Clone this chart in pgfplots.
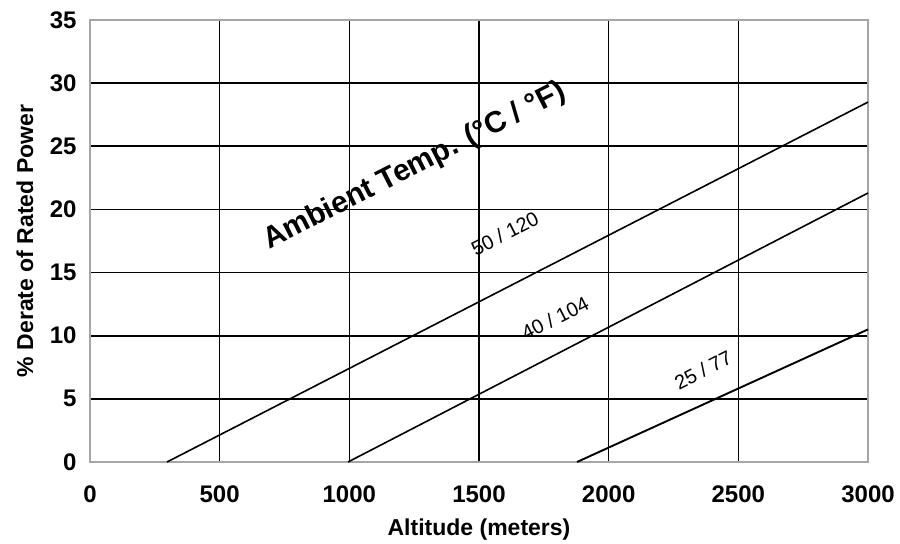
\documentclass[border=0pt]{standalone}
\usepackage{pgfplots}
\pgfplotsset{compat=1.18}
\usepackage{fontspec}
\setmainfont{Liberation Sans}

\begin{document}
\begin{tikzpicture}
  \begin{axis}[
    scale only axis,
    width=778pt, height=442pt,
    xmin=0, xmax=3000,
    ymin=0, ymax=35,
    xtick={0,500,...,3000},
    ytick={0,5,...,35},
    /pgf/number format/assume math mode=true,
    /pgf/number format/1000 sep={},
    ticklabel style={font=\bfseries\fontsize{24}{26}\selectfont},
    label style={font=\bfseries\fontsize{23}{25}\selectfont},
    xlabel={Altitude (meters)},
    ylabel={\% Derate of Rated Power},
    xlabel style={at={(axis description cs:0.5,0)}, anchor=center, yshift=-68pt},
    ylabel style={at={(axis description cs:0,0.5)}, anchor=center, yshift=65pt},
    grid=major,
    major grid style={black, line width=1.6pt},
    axis line style={gray!70, line width=1.6pt},
    x tick style={draw=none},
    y tick style={black, line width=1.6pt},
    major tick length=8pt,
    ytick pos=left, yticklabel style={xshift=-10pt},
    xticklabel style={yshift=-20pt},
    clip=false,
  ]
  % 50 / 120
  \addplot[black, line width=1.6pt] coordinates {(297,0) (3000,28.5)};
  % 40 / 104
  \addplot[black, line width=1.6pt] coordinates {(995,0) (3000,21.3)};
  % 25 / 77
  \addplot[black, line width=1.9pt] coordinates {(1878,0) (3000,10.5)};

  \node[rotate=27, font=\bfseries\fontsize{30}{32}\selectfont] at (axis cs:1253,23.4) {Ambient Temp. (°C / °F)};
  \node[rotate=27, font=\fontsize{20}{22}\selectfont] at (axis cs:1600,18.1) {50 / 120};
  \node[rotate=27, font=\fontsize{20}{22}\selectfont] at (axis cs:1793,11.4) {40 / 104};
  \node[rotate=27, font=\fontsize{20}{22}\selectfont] at (axis cs:2364,7.3) {25 / 77};
  \end{axis}
  \pgfresetboundingbox
  \path (current axis.south west) ++(-90pt,-82pt) coordinate (bl);
  \path (current axis.north east) ++(32pt,20pt) coordinate (tr);
  \path[use as bounding box] (bl) rectangle (tr);
\end{tikzpicture}
\end{document}
